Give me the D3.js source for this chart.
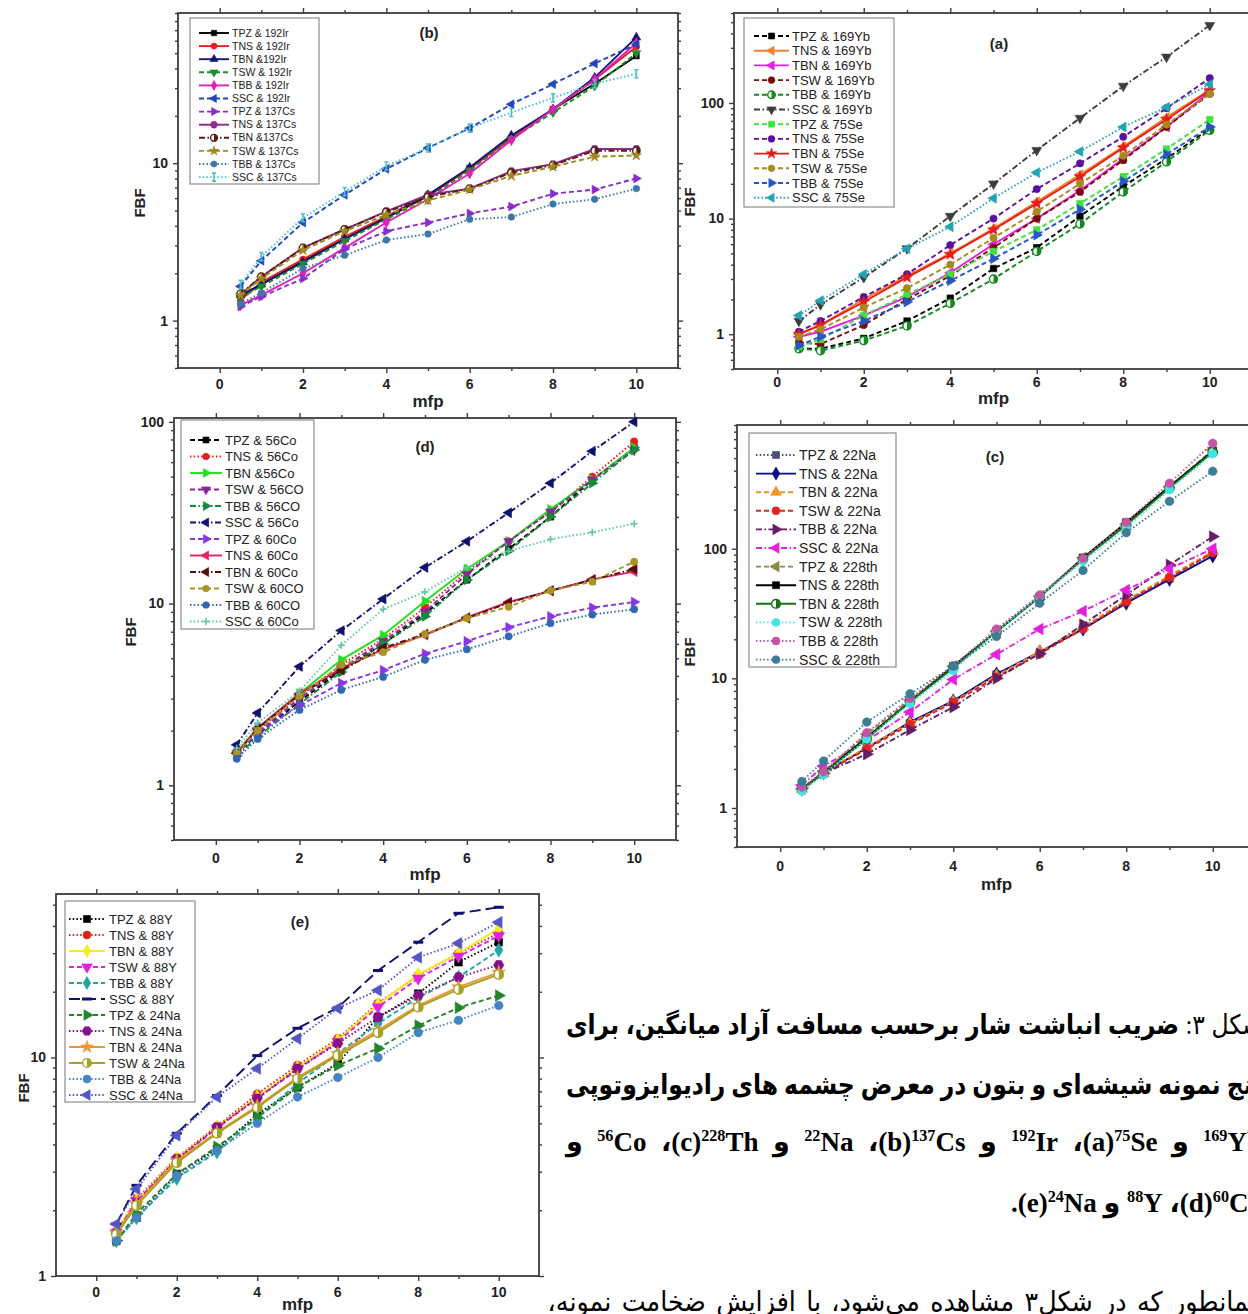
<!DOCTYPE html>
<html>
<head>
<meta charset="utf-8">
<script src="https://cdn.jsdelivr.net/npm/d3@7"></script>
<style>
  body { margin: 0; background: #fff; width: 1248px; height: 1314px; overflow: hidden; position: relative; }
  svg { position: absolute; left: 0; top: 0; }
  .cap { position: absolute; direction: rtl; white-space: nowrap; color: #000;
         font-family: "Liberation Serif", "DejaVu Sans", serif; font-weight: bold; font-size: 27px; line-height: 40px;
         transform-origin: right center; }
  .cap sup { font-size: 60%; line-height: 0; }
  .j { text-align: justify; text-align-last: justify; }
  .r { text-align: right; }
  .n { font-weight: normal; }
</style>
</head>
<body>
<svg id="fig" width="1248" height="1314"></svg>

<div class="cap j" style="left:462px; width:800px; top:1005px; transform:scaleX(0.87);"><span class="n">شکل ۳:</span> ضریب انباشت شار برحسب مسافت آزاد میانگین، برای</div>
<div class="cap j" style="left:462px; width:800px; top:1065px; transform:scaleX(0.87);">پنج نمونه شیشه‌ای و بتون در معرض چشمه های رادیوایزوتوپی</div>
<div class="cap j" style="left:566px; width:696px; top:1122px;"><span dir="ltr"><sup>169</sup>Yb</span> و <span dir="ltr">(a)<sup>75</sup>Se</span>، <span dir="ltr"><sup>192</sup>Ir</span> و <span dir="ltr">(b)<sup>137</sup>Cs</span>، <span dir="ltr"><sup>22</sup>Na</span> و <span dir="ltr">(c)<sup>228</sup>Th</span>، <span dir="ltr"><sup>56</sup>Co</span> و</div>
<div class="cap r" style="left:566px; width:696px; top:1183px;"><span dir="ltr">(d)<sup>60</sup>Co</span>، <span dir="ltr"><sup>88</sup>Y</span> و <span dir="ltr">(e)<sup>24</sup>Na</span>.</div>
<div class="cap j n" style="left:502px; width:760px; top:1282px; transform:scaleX(0.94);">همانطور که در شکل۳ مشاهده می‌شود، با افزایش ضخامت نمونه،</div>

<script>
// mean free path values shared by all panels
var mfp = [0.5, 1, 2, 3, 4, 5, 6, 7, 8, 9, 10];

// (b) 192Ir and 137Cs
var namesB = ["TPZ & 192Ir", "TNS & 192Ir", "TBN &192Ir", "TSW & 192Ir", "TBB & 192Ir", "SSC & 192Ir",
              "TPZ & 137Cs", "TNS & 137Cs", "TBN &137Cs", "TSW & 137Cs", "TBB & 137Cs", "SSC & 137Cs"];
var fbfB = [
  [1.4, 1.7, 2.4, 3.3, 4.5, 6.2, 9.3, 14.5, 22, 32, 48],
  [1.35, 1.75, 2.45, 3.4, 4.6, 6.3, 9.2, 14.5, 22, 34, 55],
  [1.45, 1.7, 2.35, 3.3, 4.5, 6.3, 9.4, 15, 22, 35, 63],
  [1.4, 1.65, 2.3, 3.2, 4.4, 6.0, 9.0, 14.3, 21, 31, 50],
  [1.25, 1.45, 2.0, 2.9, 4.2, 5.9, 8.6, 14, 22, 34, 58],
  [1.65, 2.4, 4.2, 6.3, 9.2, 12.5, 16.7, 23.7, 31.8, 43, 57],
  [1.23, 1.42, 1.85, 2.85, 3.7, 4.2, 4.8, 5.3, 6.4, 6.8, 8.0],
  [1.46, 1.9, 2.9, 3.8, 4.95, 6.3, 6.9, 8.9, 9.85, 12.3, 12.3],
  [1.48, 1.9, 2.9, 3.8, 4.9, 6.1, 6.9, 8.7, 9.7, 12, 12],
  [1.45, 1.85, 2.8, 3.7, 4.7, 5.8, 6.8, 8.3, 9.5, 11, 11.2],
  [1.28, 1.5, 2.15, 2.6, 3.25, 3.55, 4.4, 4.55, 5.5, 5.9, 6.9],
  [1.7, 2.55, 4.5, 6.6, 9.6, 12.5, 16.7, 21, 26, 32, 37]
];

// (a) 169Yb and 75Se
var namesA = ["TPZ & 169Yb", "TNS & 169Yb", "TBN & 169Yb", "TSW & 169Yb", "TBB & 169Yb", "SSC & 169Yb",
              "TPZ & 75Se", "TNS & 75Se", "TBN & 75Se", "TSW & 75Se", "TBB & 75Se", "SSC & 75Se"];
var fbfA = [
  [0.75, 0.75, 0.92, 1.3, 2.05, 3.7, 5.6, 10.5, 19, 33, 60],
  [1.0, 1.2, 2.0, 3.2, 5.0, 8.2, 14, 24, 42, 75, 130],
  [0.95, 1.05, 1.45, 2.1, 3.4, 6.0, 10, 17.5, 33, 62, 125],
  [0.85, 0.82, 1.2, 2.0, 3.2, 5.6, 10, 17, 32, 62, 120],
  [0.75, 0.72, 0.88, 1.18, 1.85, 3.0, 5.2, 9.0, 17, 31, 58],
  [1.3, 1.8, 3.1, 5.5, 10.5, 20, 39, 74, 140, 250, 470],
  [0.78, 0.9, 1.45, 2.2, 3.3, 5.2, 8.0, 13.5, 23, 40, 72],
  [1.05, 1.3, 2.1, 3.3, 5.9, 10, 18, 30, 51, 90, 164],
  [1.0, 1.2, 1.9, 3.1, 4.9, 8.0, 13.5, 23, 41, 72, 128],
  [0.95, 1.1, 1.7, 2.5, 4.0, 6.8, 11.5, 20, 35, 65, 120],
  [0.8, 0.95, 1.3, 1.9, 2.9, 4.5, 7.2, 12, 21, 36, 62],
  [1.45, 1.95, 3.3, 5.5, 8.5, 15, 25, 38, 62, 92, 145]
];

// (d) 56Co and 60Co
var namesD = ["TPZ & 56Co", "TNS & 56Co", "TBN &56Co", "TSW & 56CO", "TBB & 56CO", "SSC & 56Co",
              "TPZ & 60Co", "TNS & 60Co", "TBN & 60Co", "TSW & 60CO", "TBB & 60CO", "SSC & 60Co"];
var fbfD = [
  [1.5, 1.9, 2.9, 4.3, 6.0, 8.8, 13.5, 20, 30, 48, 72],
  [1.55, 2.0, 3.1, 4.6, 6.4, 9.5, 15, 22, 32, 50, 78],
  [1.52, 2.07, 3.2, 4.9, 6.7, 10.3, 15.5, 22, 33, 48, 72],
  [1.5, 1.95, 3.0, 4.4, 6.2, 9.0, 14.5, 22, 32, 48, 70],
  [1.45, 1.85, 2.8, 4.2, 6.0, 8.5, 13.5, 19.5, 30, 46, 70],
  [1.67, 2.5, 4.5, 7.1, 10.6, 15.8, 22, 31.6, 46, 69, 100],
  [1.5, 1.95, 2.75, 3.65, 4.3, 5.3, 6.2, 7.4, 8.5, 9.5, 10.2],
  [1.5, 2.07, 3.2, 4.4, 5.6, 6.7, 8.4, 10.2, 11.7, 13.6, 15],
  [1.5, 2.05, 3.15, 4.3, 5.7, 6.8, 8.3, 10.1, 11.8, 13.5, 15.5],
  [1.5, 2.0, 3.1, 4.6, 5.4, 6.8, 8.3, 9.6, 11.8, 13.2, 17],
  [1.4, 1.8, 2.6, 3.35, 3.95, 4.9, 5.6, 6.6, 7.8, 8.7, 9.3],
  [1.6, 2.2, 3.3, 5.9, 9.3, 11.6, 15.8, 19.4, 22.6, 24.7, 27.5]
];

// (c) 22Na and 228Th
var namesC = ["TPZ & 22Na", "TNS & 22Na", "TBN & 22Na", "TSW & 22Na", "TBB & 22Na", "SSC & 22Na",
              "TPZ & 228th", "TNS & 228th", "TBN & 228th", "TSW & 228th", "TBB & 228th", "SSC & 228th"];
var fbfC = [
  [1.4, 1.85, 2.9, 4.5, 6.6, 10.7, 15.6, 24.4, 39.6, 59, 93],
  [1.4, 1.87, 2.9, 4.6, 6.7, 10.8, 16, 24, 38, 58, 88],
  [1.4, 1.85, 2.95, 4.5, 6.6, 10.5, 16, 25, 40, 62, 95],
  [1.38, 1.85, 2.85, 4.4, 6.5, 10.2, 15.5, 24, 39, 60, 93],
  [1.42, 1.85, 2.6, 4.0, 6.0, 10, 15.5, 26, 44, 75, 124],
  [1.5, 2.1, 3.3, 5.5, 9.8, 15.3, 24, 33, 48, 70, 100],
  [1.4, 1.9, 3.7, 6.8, 12.4, 23, 43, 85, 155, 300, 580],
  [1.4, 1.87, 3.5, 6.6, 12.4, 23, 42.5, 85, 159, 302, 565],
  [1.4, 1.85, 3.4, 6.6, 12, 23, 42.5, 83, 152, 295, 555],
  [1.35, 1.8, 3.4, 6.4, 11.5, 23, 43, 80, 145, 285, 540],
  [1.45, 1.9, 3.8, 7.0, 12.5, 24, 44, 84, 160, 320, 650],
  [1.6, 2.3, 4.6, 7.6, 12.4, 21, 38, 68, 133, 232, 396]
];

// (e) 88Y and 24Na
var namesE = ["TPZ & 88Y", "TNS & 88Y", "TBN & 88Y", "TSW & 88Y", "TBB & 88Y", "SSC & 88Y",
              "TPZ & 24Na", "TNS & 24Na", "TBN & 24Na", "TSW & 24Na", "TBB & 24Na", "SSC & 24Na"];
var fbfE = [
  [1.45, 1.85, 2.93, 3.8, 5.5, 7.3, 9.4, 15.3, 19.6, 27.3, 33.7],
  [1.6, 2.25, 3.48, 4.85, 6.8, 9.2, 12.2, 17.7, 23.8, 30, 37],
  [1.6, 2.2, 3.45, 4.8, 6.6, 9.0, 12, 17.5, 24, 30, 39],
  [1.58, 2.2, 3.4, 4.75, 6.5, 8.8, 11.8, 17, 23, 29, 36],
  [1.45, 1.85, 2.8, 3.7, 5.3, 7.6, 10.4, 14.3, 18.8, 23.3, 31],
  [1.73, 2.6, 4.5, 6.7, 10.2, 13.6, 16.9, 25, 33.7, 45.7, 48.7],
  [1.45, 1.93, 2.93, 3.9, 5.3, 7.3, 9.2, 11, 14, 16.9, 19.2],
  [1.57, 2.16, 3.43, 4.8, 6.5, 8.9, 11.6, 15.3, 19.2, 23.3, 26.5],
  [1.57, 2.14, 3.37, 4.55, 6.0, 8.1, 10.4, 13.3, 17.3, 21, 24.5],
  [1.55, 2.1, 3.3, 4.5, 5.9, 8.0, 10.2, 13, 17, 20.5, 24],
  [1.45, 1.85, 2.87, 3.74, 5.0, 6.6, 8.1, 10, 13, 14.8, 17.3],
  [1.73, 2.5, 4.4, 6.6, 8.9, 12.2, 16.8, 20.3, 28.7, 33.3, 41.6]
];

// look of each series: colour, dash, marker
var styleB = [["#000000","solid","square"],["#e4201c","solid","circle"],["#14147a","solid","up"],["#1f8a2a","dash","down"],
  ["#e21fb8","solid","diamond"],["#2244c0","dash","left"],["#8a2ccc","dash","right"],["#8a2a8a","solid","hex"],
  ["#5a1c12","dashdot","half"],["#a08a1c","dash","star"],["#3a78a8","dot","circle"],["#48c4c8","dot","bar"]];
var styleA = [["#000000","dash","square"],["#f4812c","solid","left"],["#e41fe0","solid","left"],["#7a0a0a","dash","circle"],
  ["#148a20","dash","half"],["#3c3c3c","dashdot","down"],["#44e040","dash","square"],["#5a10a0","dash","circle"],
  ["#e41c1c","solid","star"],["#a88a1c","dash","circle"],["#2456c4","dash","right"],["#20a4b4","dot","left"]];
var styleD = [["#000000","dash","square"],["#e4201c","dot","circle"],["#22e020","solid","right"],["#8a249a","dash","down"],
  ["#128a3c","dashdot","right"],["#10106e","dashdot","left"],["#8a34e4","dash","right"],["#e4205e","solid","left"],
  ["#501010","dashdot","left"],["#a89420","dash","circle"],["#3466b4","dot","circle"],["#64c4a4","dot","plus"]];
var styleC = [["#4c4c74","dot","square"],["#0c0c84","solid","diamond"],["#f49424","dash","up"],["#e4241c","dash","circle"],
  ["#641e64","dashdot","right"],["#e420e0","dashdot","left"],["#8a8a44","dash","left"],["#000000","solid","square"],
  ["#147414","solid","half"],["#44e4e4","dot","circle"],["#c454a4","dot","circle"],["#3c7c94","dot","circle"]];
var styleE = [["#000000","dot","square"],["#e4201c","dot","circle"],["#f4ec1c","solid","diamond"],["#e420e0","dash","down"],
  ["#20a4a4","dash","diamond"],["#10106e","longdash","dash"],["#24842a","dash","right"],["#84108a","dot","hex"],
  ["#f49434","solid","star"],["#a4a424","solid","half"],["#4484c4","dot","circle"],["#5454c4","dot","left"]];

var dashes = { solid: null, dash: "5,3", dot: "1.5,2.2", dashdot: "6,2.5,1.5,2.5", longdash: "11,5" };

var panels = [
  { tag: "(b)", names: namesB, vals: fbfB, styles: styleB, l: 178, r: 678, t: 13, b: 368, ymin: 0.5, ymax: 90,
    tickY: 384, titleX: 429, titleY: 33, fbfX: 140, fbfY: 203, mfpY: 401, msize: 34,
    leg: { x: 190, y: 18, w: 129, h: 166, row0: 33, dy: 13.1, s0: 199, s1: 229, tx: 232, fs: 10.5 } },
  { tag: "(a)", names: namesA, vals: fbfA, styles: styleA, l: 734, r: 1253, t: 13, b: 369, ymin: 0.5, ymax: 600,
    tickY: 382, titleX: 999, titleY: 44, fbfX: 690, fbfY: 202, mfpY: 398, msize: 42,
    leg: { x: 744, y: 18, w: 150, h: 189, row0: 36, dy: 14.7, s0: 754, s1: 789, tx: 792, fs: 13 } },
  { tag: "(d)", names: namesD, vals: fbfD, styles: styleD, l: 174, r: 676, t: 418, b: 840, ymin: 0.5, ymax: 105,
    tickY: 858, titleX: 425, titleY: 447, fbfX: 131, fbfY: 632, mfpY: 874, msize: 42,
    leg: { x: 181, y: 420, w: 133, h: 209, row0: 440, dy: 16.5, s0: 190, s1: 222, tx: 225, fs: 13 } },
  { tag: "(c)", names: namesC, vals: fbfC, styles: styleC, l: 737, r: 1256, t: 425, b: 847, ymin: 0.5, ymax: 900,
    tickY: 866, titleX: 995, titleY: 457, fbfX: 690, fbfY: 652, mfpY: 884, msize: 58,
    leg: { x: 749, y: 433, w: 147, h: 234, row0: 455, dy: 18.6, s0: 756, s1: 796, tx: 799, fs: 14 } },
  { tag: "(e)", names: namesE, vals: fbfE, styles: styleE, l: 56, r: 539, t: 894, b: 1276, ymin: 1, ymax: 56,
    tickY: 1292, titleX: 300, titleY: 922, fbfX: 24, fbfY: 1088, mfpY: 1304, msize: 58,
    leg: { x: 65, y: 901, w: 130, h: 201, row0: 919, dy: 16, s0: 69, s1: 105, tx: 109, fs: 13 } }
];

var svg = d3.select("#fig");
var FONT = "Liberation Sans, Arial, sans-serif";

var symbols = { square: d3.symbolSquare, circle: d3.symbolCircle, up: d3.symbolTriangle, down: d3.symbolTriangle,
                left: d3.symbolTriangle, right: d3.symbolTriangle, diamond: d3.symbolDiamond, star: d3.symbolStar };
var turn = { down: 180, left: -90, right: 90 };

function drawMarker(g, shape, color, size, cx, cy) {
  var tr = "translate(" + cx + "," + cy + ")" + (turn[shape] ? " rotate(" + turn[shape] + ")" : "");
  var r = Math.sqrt(size / Math.PI) + 0.4;
  if (shape === "plus" || shape === "dash" || shape === "bar") {
    var d = shape === "plus" ? "M-3.5,0H3.5M0,-3.5V3.5" : shape === "dash" ? "M-5,0H5" : "M0,-4V4M-2,-4H2M-2,4H2";
    g.append("path").attr("d", d).attr("transform", tr).attr("fill", "none")
      .attr("stroke", color).attr("stroke-width", shape === "dash" ? 3 : 1.6);
  } else if (shape === "half") {
    g.append("circle").attr("cx", cx).attr("cy", cy).attr("r", r).attr("fill", "#fff").attr("stroke", color).attr("stroke-width", 1.4);
    g.append("path").attr("d", "M0," + (-r) + "A" + r + "," + r + " 0 0 1 0," + r + "Z").attr("transform", tr).attr("fill", color);
  } else if (shape === "hex") {
    var pts = d3.range(6).map(function(k) { var a = Math.PI / 3 * k; return [r * 1.1 * Math.cos(a), r * 1.1 * Math.sin(a)]; });
    g.append("path").attr("d", "M" + pts.join("L") + "Z").attr("transform", tr)
      .attr("fill", color).attr("stroke", color).attr("stroke-width", 0.6);
  } else {
    g.append("path").attr("d", d3.symbol(symbols[shape], size)()).attr("transform", tr)
      .attr("fill", color).attr("stroke", color).attr("stroke-width", 0.6);
  }
}

function drawPanel(p) {
  var x = d3.scaleLinear().domain([-1, 11]).range([p.l, p.r]);
  var y = d3.scaleLog().domain([p.ymin, p.ymax]).range([p.b, p.t]);
  var g = svg.append("g");

  // log ticks: decades get labels, the rest are minor
  var major = [], minor = [];
  for (var e = -1; e <= 3; e++) {
    for (var k = 1; k <= 9; k++) {
      var v = k * Math.pow(10, e);
      if (v < p.ymin * 0.999 || v > p.ymax * 1.001) continue;
      (k === 1 ? major : minor).push(v);
    }
  }
  var stroke = "#3c3c3c";
  function clean(a) { a.select(".domain").remove(); a.selectAll("line").attr("stroke", stroke).attr("stroke-width", 1.4); }

  g.append("g").attr("transform", "translate(0," + p.b + ")")
    .call(d3.axisBottom(x).tickValues([0, 2, 4, 6, 8, 10]).tickSize(5).tickFormat(""))
    .call(clean);
  g.append("g").attr("transform", "translate(0," + p.b + ")")
    .call(d3.axisBottom(x).tickValues([1, 3, 5, 7, 9]).tickSize(3).tickFormat("")).call(clean);
  g.append("g").attr("transform", "translate(0," + p.t + ")")
    .call(d3.axisTop(x).tickValues([0, 2, 4, 6, 8, 10]).tickSize(5).tickFormat("")).call(clean);
  g.append("g").attr("transform", "translate(0," + p.t + ")")
    .call(d3.axisTop(x).tickValues([1, 3, 5, 7, 9]).tickSize(3).tickFormat("")).call(clean);
  g.append("g").attr("transform", "translate(" + p.l + ",0)")
    .call(d3.axisLeft(y).tickValues(major).tickSize(5).tickFormat("")).call(clean);
  g.append("g").attr("transform", "translate(" + p.l + ",0)")
    .call(d3.axisLeft(y).tickValues(minor).tickSize(3).tickFormat("")).call(clean);
  g.append("g").attr("transform", "translate(" + p.r + ",0)")
    .call(d3.axisRight(y).tickValues(major).tickSize(5).tickFormat("")).call(clean);
  g.append("g").attr("transform", "translate(" + p.r + ",0)")
    .call(d3.axisRight(y).tickValues(minor).tickSize(3).tickFormat("")).call(clean);

  g.append("rect").attr("x", p.l).attr("y", p.t).attr("width", p.r - p.l).attr("height", p.b - p.t)
    .attr("fill", "none").attr("stroke", stroke).attr("stroke-width", 1.8);

  // tick labels
  g.selectAll("text.xt").data([0, 2, 4, 6, 8, 10]).enter().append("text")
    .attr("x", function(d) { return x(d); }).attr("y", p.tickY).attr("dy", "0.35em")
    .attr("text-anchor", "middle").attr("font-family", FONT).attr("font-weight", "bold").attr("font-size", 14)
    .attr("fill", "#222").text(function(d) { return d; });
  g.selectAll("text.yt").data(major).enter().append("text")
    .attr("x", p.l - 10).attr("y", function(d) { return y(d); }).attr("dy", "0.35em")
    .attr("text-anchor", "end").attr("font-family", FONT).attr("font-weight", "bold").attr("font-size", 14)
    .attr("fill", "#222").text(function(d) { return d; });

  g.append("text").attr("x", (p.l + p.r) / 2).attr("y", p.mfpY).attr("dy", "0.35em").attr("text-anchor", "middle")
    .attr("font-family", FONT).attr("font-weight", "bold").attr("font-size", 17).attr("fill", "#222").text("mfp");
  g.append("text").attr("transform", "translate(" + p.fbfX + "," + p.fbfY + ") rotate(-90)").attr("dy", "0.35em")
    .attr("text-anchor", "middle").attr("font-family", FONT).attr("font-weight", "bold").attr("font-size", 15)
    .attr("fill", "#222").text("FBF");
  g.append("text").attr("x", p.titleX).attr("y", p.titleY).attr("dy", "0.35em").attr("text-anchor", "middle")
    .attr("font-family", FONT).attr("font-weight", "bold").attr("font-size", 15).attr("fill", "#222").text(p.tag);

  // curves
  var line = d3.line().x(function(d) { return x(d[0]); }).y(function(d) { return y(d[1]); });
  var plot = g.append("g");
  p.vals.forEach(function(series, i) {
    var st = p.styles[i];
    var pts = series.map(function(v, j) { return [mfp[j], v]; });
    plot.append("path").datum(pts).attr("d", line).attr("fill", "none")
      .attr("stroke", st[0]).attr("stroke-width", 1.9).attr("stroke-dasharray", dashes[st[1]]);
    pts.forEach(function(d) { drawMarker(plot, st[2], st[0], p.msize, x(d[0]), y(d[1])); });
  });

  // legend
  var L = p.leg, lg = g.append("g");
  lg.append("rect").attr("x", L.x).attr("y", L.y).attr("width", L.w).attr("height", L.h)
    .attr("fill", "#fff").attr("stroke", "#777").attr("stroke-width", 1);
  p.names.forEach(function(name, i) {
    var st = p.styles[i], ry = L.row0 + i * L.dy;
    lg.append("line").attr("x1", L.s0).attr("x2", L.s1).attr("y1", ry).attr("y2", ry)
      .attr("stroke", st[0]).attr("stroke-width", 1.9).attr("stroke-dasharray", dashes[st[1]]);
    drawMarker(lg, st[2], st[0], p.msize * 0.85, (L.s0 + L.s1) / 2, ry);
    lg.append("text").attr("x", L.tx).attr("y", ry).attr("dy", "0.35em").attr("font-family", FONT)
      .attr("font-size", L.fs).attr("fill", "#222").text(name);
  });
}

panels.forEach(drawPanel);
</script>
</body>
</html>
